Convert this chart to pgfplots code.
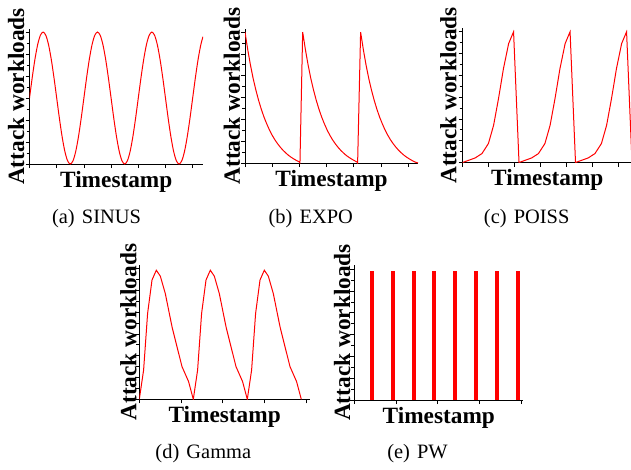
\documentclass[border=0pt]{standalone}
\usepackage{fontspec}
\usepackage{pgfplots}
\pgfplotsset{compat=1.18}
\newfontfamily\lblfont{Liberation Serif}
\pgfplotsset{
  panel/.style={
    scale only axis,
    anchor=south west,
    axis lines*=left,
    axis line style={black, line width=0.9bp},
    xticklabels={}, yticklabels={},
    ymin=0,
    ytick={0,1,...,6},
    minor ytick={0.5,1.5,...,5.5},
    tick align=outside,
    major tick length=4bp, minor tick length=3bp,
    tick style={black, line width=0.7bp},
    xlabel={Timestamp}, ylabel={Attack workloads},
    label style={font=\lblfont\bfseries\fontsize{23.4}{26}\selectfont, inner sep=0pt, outer sep=0pt},
    xlabel style={at={(axis description cs:0.5,0)}, anchor=north, yshift=-7bp},
    ylabel style={anchor=south},
  },
  curve/.style={red, line width=1bp, no marks},
}
\begin{document}
\begin{tikzpicture}[x=1bp,y=1bp]
\useasboundingbox (0,0) rectangle (631,-470);
% (a) SINUS
\begin{axis}[panel, at={(29.5bp,-164bp)}, width=173.5bp, height=135bp,
  xmin=0, xmax=6.38, ymax=6.14, xtick={0,...,6},
  ylabel style={at={(axis description cs:-0.029,0.5)}}]
\addplot[curve, smooth] coordinates {
(0,3) (0.1,3.927) (0.2,4.763) (0.3,5.427) (0.4,5.853) (0.5,6) (0.6,5.853) (0.7,5.427) (0.8,4.763) (0.9,3.927)
(1.0,3) (1.1,2.073) (1.2,1.237) (1.3,0.573) (1.4,0.147) (1.5,0) (1.6,0.147) (1.7,0.573) (1.8,1.237) (1.9,2.073)
(2.0,3) (2.1,3.927) (2.2,4.763) (2.3,5.427) (2.4,5.853) (2.5,6) (2.6,5.853) (2.7,5.427) (2.8,4.763) (2.9,3.927)
(3.0,3) (3.1,2.073) (3.2,1.237) (3.3,0.573) (3.4,0.147) (3.5,0) (3.6,0.147) (3.7,0.573) (3.8,1.237) (3.9,2.073)
(4.0,3) (4.1,3.927) (4.2,4.763) (4.3,5.427) (4.4,5.853) (4.5,6) (4.6,5.853) (4.7,5.427) (4.8,4.763) (4.9,3.927)
(5.0,3) (5.1,2.073) (5.2,1.237) (5.3,0.573) (5.4,0.147) (5.5,0) (5.6,0.147) (5.7,0.573) (5.8,1.237) (5.9,2.073)
(6.0,3) (6.1,3.927) (6.2,4.763) (6.3,5.427) (6.38,5.789)};
\end{axis}
% (b) EXPO
\begin{axis}[panel, at={(245bp,-163bp)}, width=173bp, height=134bp,
  xmin=0, xmax=6.36, ymax=6.14, xtick={0,...,6},
  ylabel style={at={(axis description cs:-0.029,0.5)}}]
\addplot[curve] coordinates {
(0,6) (0.1,5.20) (0.2,4.49) (0.3,3.87) (0.4,3.34) (0.5,2.87) (0.6,2.46) (0.7,2.10) (0.8,1.79) (0.9,1.51)
(1.0,1.27) (1.1,1.06) (1.2,0.88) (1.3,0.72) (1.4,0.58) (1.5,0.46) (1.6,0.35) (1.7,0.26) (1.8,0.18) (1.9,0.11) (2.0,0.045) (2.02,0)
(2.12,6) (2.22,5.20) (2.32,4.49) (2.42,3.87) (2.52,3.34) (2.62,2.87) (2.72,2.46) (2.82,2.10) (2.92,1.79) (3.02,1.51)
(3.12,1.27) (3.22,1.06) (3.32,0.88) (3.42,0.72) (3.52,0.58) (3.62,0.46) (3.72,0.35) (3.82,0.26) (3.92,0.18) (4.02,0.11) (4.12,0.045) (4.14,0)
(4.25,6) (4.35,5.20) (4.45,4.49) (4.55,3.87) (4.65,3.34) (4.75,2.87) (4.85,2.46) (4.95,2.10) (5.05,1.79) (5.15,1.51)
(5.25,1.27) (5.35,1.06) (5.45,0.88) (5.55,0.72) (5.65,0.58) (5.75,0.46) (5.85,0.35) (5.95,0.26) (6.05,0.18) (6.15,0.11) (6.25,0.045) (6.36,0)};
\end{axis}
% (c) POISS
\begin{axis}[panel, at={(462.5bp,-162.5bp)}, width=169.5bp, height=134.2bp,
  xmin=0, xmax=6.54, ymax=6.16, xtick={0,...,6},
  ylabel style={at={(axis description cs:-0.035,0.5)}}]
\addplot[curve] coordinates {
(0,0) (0.49,0.21) (0.75,0.41) (1.00,0.87) (1.20,1.71) (1.39,2.94) (1.58,4.31) (1.78,5.46) (1.97,6) (2.18,0)
(2.67,0.21) (2.93,0.41) (3.18,0.87) (3.38,1.71) (3.57,2.94) (3.76,4.31) (3.96,5.46) (4.15,6) (4.36,0)
(4.85,0.21) (5.11,0.41) (5.36,0.87) (5.56,1.71) (5.75,2.94) (5.94,4.31) (6.14,5.46) (6.33,6) (6.54,0)};
\end{axis}
% (d) Gamma
\begin{axis}[panel, at={(139.3bp,-399.3bp)}, width=170.7bp, height=134.3bp,
  xmin=0, xmax=170.7, ymax=6.16, xtick={0,41.7,83.4,125.1,166.8},
  ylabel style={at={(axis description cs:-0.016,0.5)}}]
\addplot[curve] coordinates {
(0,0) (4.3,1.34) (8.3,3.94) (12.7,5.47) (17,5.92) (21,5.65) (26,4.85) (32.7,3.33) (37.7,2.41) (42.7,1.50) (49.3,0.81) (54,0)
(58.3,1.34) (62.3,3.94) (66.7,5.47) (71,5.92) (75,5.65) (80,4.85) (86.7,3.33) (91.7,2.41) (96.7,1.50) (103.3,0.81) (108,0)
(112.3,1.34) (116.3,3.94) (120.7,5.47) (125,5.92) (129,5.65) (134,4.85) (140.7,3.33) (145.7,2.41) (150.7,1.50) (157.3,0.81) (162,0)};
\end{axis}
% (e) PW
\begin{axis}[panel, at={(354.3bp,-400bp)}, width=169bp, height=135bp,
  xmin=0, xmax=169, ymax=6.19, xtick={0,41.7,83.4,125.1,166.8},
  ylabel style={at={(axis description cs:-0.024,0.5)}}]
\addplot[ycomb, red, line width=4bp, no marks] coordinates {
(17.4,5.9) (38.4,5.9) (59.4,5.9) (79.7,5.9) (100.7,5.9) (121.4,5.9) (142.4,5.9) (163.4,5.9)};
\end{axis}
% captions
\begin{scope}[every node/.style={font=\lblfont\fontsize{20.5}{23}\selectfont, anchor=base, inner sep=0pt}]
\node at (96.5,-223.5) {(a)\hspace{0.35em}SINUS};
\node at (310.8,-223.5) {(b)\hspace{0.35em}EXPO};
\node at (526.7,-223.5) {(c)\hspace{0.35em}POISS};
\node at (203.3,-458) {(d)\hspace{0.35em}Gamma};
\node at (417.5,-458) {(e)\hspace{0.35em}PW};
\end{scope}
\end{tikzpicture}
\end{document}
